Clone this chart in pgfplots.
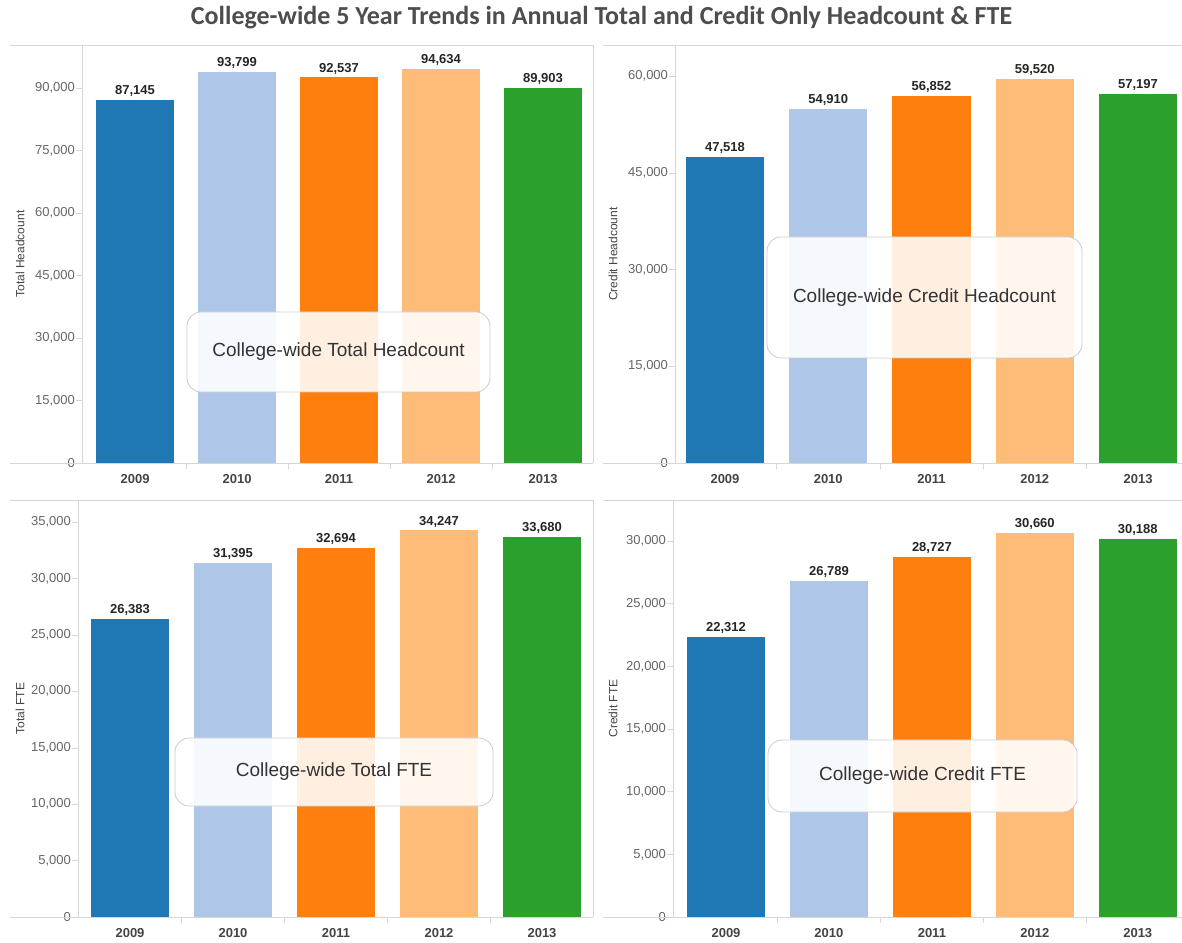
\documentclass[border=0pt]{standalone}
\usepackage{fontspec}
\setmainfont{Liberation Sans}
\newfontfamily\titlefont{Carlito}
\usepackage{pgfplots}
\pgfplotsset{compat=1.18}
\usetikzlibrary{calc}
\definecolor{cA}{HTML}{1F77B4}
\definecolor{cB}{HTML}{AEC7E8}
\definecolor{cC}{HTML}{FF7F0E}
\definecolor{cD}{HTML}{FFBB78}
\definecolor{cE}{HTML}{2CA02C}
\definecolor{linegray}{HTML}{D6D6D6}
\definecolor{tickgray}{HTML}{666666}
\definecolor{labgray}{HTML}{444444}
\definecolor{titlegray}{HTML}{4D4D4D}
\definecolor{boxgray}{HTML}{CCCCCC}
\pgfplotsset{
  panel/.style={
    scale only axis, ybar, bar width=0.76, bar shift=0pt, ymin=0, clip=false,
    enlargelimits=false,
    axis line style={draw=none},
    xtick={0,1,2,3,4}, xticklabels={2009,2010,2011,2012,2013},
    minor xtick={0.5,1.5,2.5,3.5},
    tick align=outside, major tick length=3pt, minor tick length=3pt,
    xtick pos=bottom, ytick pos=left,
    major x tick style={draw=none},
    minor x tick style={draw=linegray},
    ytick style={draw=linegray},
    scaled y ticks=false,
    /pgf/number format/assume math mode=true,
    /pgf/number format/1000 sep={,},
    yticklabel style={font=\fontsize{6.5}{7}\selectfont, text=tickgray, xshift=3pt},
    xticklabel style={font=\bfseries\fontsize{6.5}{7}\selectfont, text=labgray, yshift=1pt},
    point meta=y,
    nodes near coords={\pgfmathprintnumber[fixed,precision=0,1000 sep={,},assume math mode=true]{\pgfplotspointmeta}},
    every node near coord/.append style={font=\bfseries\fontsize{6.5}{7}\selectfont, text=black!85, inner sep=1.5pt, anchor=south},
  },
}
\newcommand{\panelframe}[3]{%
  \draw[linegray] (#1.south west) -- (#1.north west);
  \draw[linegray] (#1.south east) -- (#1.north east);
  \draw[linegray] ($(#1.north west)+(-#2,0)$) -- (#1.north east);
  \draw[linegray] ($(#1.south west)+(-#2,0)$) -- (#1.south east);
  \node[rotate=90, font=\fontsize{6}{7}\selectfont, text=labgray] at ($(#1.west)+(-#2,0)+(5pt,0)$) {#3};
}
\begin{document}
\begin{tikzpicture}
\path[use as bounding box] (0,0) rectangle (591pt,471pt);
\node[font=\titlefont\bfseries\fontsize{13}{15}\selectfont, text=titlegray] at (300.75pt,462pt)
  {College-wide 5 Year Trends in Annual Total and Credit Only Headcount \& FTE};

% Top left
\begin{axis}[panel, name=tl, at={(41pt,239.5pt)}, anchor=south west, width=255.5pt, height=209pt,
  xmin=-0.52, xmax=4.49, ymax=100320, ytick={0,15000,30000,45000,60000,75000,90000}]
\addplot[fill=cA, draw=none] coordinates {(0,87145)};
\addplot[fill=cB, draw=none] coordinates {(1,93799)};
\addplot[fill=cC, draw=none] coordinates {(2,92537)};
\addplot[fill=cD, draw=none] coordinates {(3,94634)};
\addplot[fill=cE, draw=none] coordinates {(4,89903)};
\end{axis}

% Top right
\begin{axis}[panel, name=tr, at={(337.5pt,239.5pt)}, anchor=south west, width=253.5pt, height=209pt,
  xmin=-0.484, xmax=4.426, ymax=64806, ytick={0,15000,30000,45000,60000}]
\addplot[fill=cA, draw=none] coordinates {(0,47518)};
\addplot[fill=cB, draw=none] coordinates {(1,54910)};
\addplot[fill=cC, draw=none] coordinates {(2,56852)};
\addplot[fill=cD, draw=none] coordinates {(3,59520)};
\addplot[fill=cE, draw=none] coordinates {(4,57197)};
\end{axis}

% Bottom left
\begin{axis}[panel, name=bl, at={(39pt,12.5pt)}, anchor=south west, width=257.5pt, height=208.5pt,
  xmin=-0.505, xmax=4.495, ymax=36949, ytick={0,5000,10000,15000,20000,25000,30000,35000}]
\addplot[fill=cA, draw=none] coordinates {(0,26383)};
\addplot[fill=cB, draw=none] coordinates {(1,31395)};
\addplot[fill=cC, draw=none] coordinates {(2,32694)};
\addplot[fill=cD, draw=none] coordinates {(3,34247)};
\addplot[fill=cE, draw=none] coordinates {(4,33680)};
\end{axis}

% Bottom right
\begin{axis}[panel, name=br, at={(336.5pt,12.5pt)}, anchor=south west, width=254.5pt, height=208.5pt,
  xmin=-0.515, xmax=4.43, ymax=33271, ytick={0,5000,10000,15000,20000,25000,30000}]
\addplot[fill=cA, draw=none] coordinates {(0,22312)};
\addplot[fill=cB, draw=none] coordinates {(1,26789)};
\addplot[fill=cC, draw=none] coordinates {(2,28727)};
\addplot[fill=cD, draw=none] coordinates {(3,30660)};
\addplot[fill=cE, draw=none] coordinates {(4,30188)};
\end{axis}

\panelframe{tl}{36pt}{Total Headcount}
\panelframe{tr}{36pt}{Credit Headcount}
\panelframe{bl}{34pt}{Total FTE}
\panelframe{br}{35pt}{Credit FTE}

\tikzset{cbox/.style={draw=boxgray, fill=white, fill opacity=0.88, text opacity=1, rounded corners=7pt,
  font=\fontsize{9.5}{11}\selectfont, text=black!80, inner sep=0pt}}
\node[cbox, minimum width=151.5pt, minimum height=40pt] at (169.25pt,295pt) {College-wide Total Headcount};
\node[cbox, minimum width=157.5pt, minimum height=60.5pt] at (462.25pt,322.25pt) {College-wide Credit Headcount};
\node[cbox, minimum width=159pt, minimum height=34pt] at (167pt,85pt) {College-wide Total FTE};
\node[cbox, minimum width=154.5pt, minimum height=36pt] at (461.25pt,83pt) {College-wide Credit FTE};
\end{tikzpicture}
\end{document}
